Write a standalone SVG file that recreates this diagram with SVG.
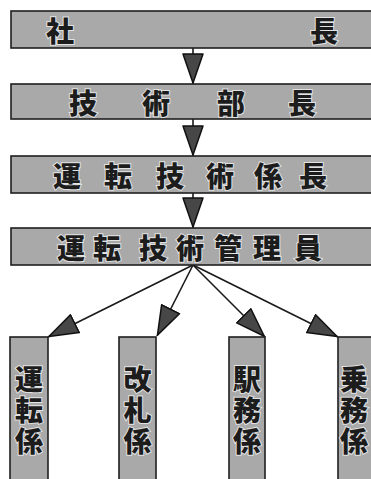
<svg xmlns="http://www.w3.org/2000/svg" width="371" height="479" viewBox="0 0 371 479">
<defs>
<style>
.box{fill:#a9a9a9;stroke:#1e1e1e;stroke-width:1.6}
.t{font-family:"Noto Sans CJK JP","Noto Sans CJK SC",sans-serif;font-weight:900;font-size:28px;fill:#1c1c1c;stroke:#e2e2e2;stroke-width:2;paint-order:stroke;text-anchor:middle;dominant-baseline:central}
.v{font-family:"Noto Sans CJK JP","Noto Sans CJK SC",sans-serif;font-weight:900;font-size:28px;fill:#1c1c1c;stroke:#e2e2e2;stroke-width:2;paint-order:stroke;writing-mode:vertical-rl;letter-spacing:3px}
.c{stroke:#1a1a1a;stroke-width:1.6;fill:none}
</style>
<marker id="ah" viewBox="0 0 31 22" refX="31" refY="11" markerWidth="31" markerHeight="22" markerUnits="userSpaceOnUse" orient="auto">
<path d="M1,1 L30,11 L1,21 Z" fill="#474747" stroke="#111" stroke-width="1.5" stroke-linejoin="round"/>
</marker>
</defs>
<rect width="371" height="479" fill="#ffffff"/>
<g id="connectors">
<line class="c" x1="193" y1="48" x2="193" y2="84" marker-end="url(#ah)"/>
<line class="c" x1="193" y1="119" x2="193" y2="156" marker-end="url(#ah)"/>
<line class="c" x1="193" y1="193" x2="193" y2="228" marker-end="url(#ah)"/>
<line class="c" x1="193" y1="265" x2="48" y2="337" marker-end="url(#ah)"/>
<line class="c" x1="193" y1="265" x2="157" y2="336" marker-end="url(#ah)"/>
<line class="c" x1="193" y1="265" x2="265" y2="337" marker-end="url(#ah)"/>
<line class="c" x1="193" y1="265" x2="338" y2="337" marker-end="url(#ah)"/>
</g>
<g id="n-shacho">
<rect class="box" x="11" y="11" width="375" height="37"/>
<text class="t" x="60" y="30">社</text>
<text class="t" x="324" y="30">長</text>
</g>
<g id="n-gijutsubucho">
<rect class="box" x="11" y="84" width="375" height="35"/>
<text class="t" x="83" y="102">技</text>
<text class="t" x="156" y="102">術</text>
<text class="t" x="231" y="102">部</text>
<text class="t" x="302" y="102">長</text>
</g>
<g id="n-untengijutsukakaricho">
<rect class="box" x="11" y="156" width="375" height="37"/>
<text class="t" x="67" y="175">運</text>
<text class="t" x="118" y="175">転</text>
<text class="t" x="170" y="175">技</text>
<text class="t" x="220" y="175">術</text>
<text class="t" x="268" y="175">係</text>
<text class="t" x="313" y="175">長</text>
</g>
<g id="n-untengijutsukanriin">
<rect class="box" x="11" y="228" width="375" height="37"/>
<text class="t" x="71" y="247">運</text>
<text class="t" x="107" y="247">転</text>
<text class="t" x="153" y="247">技</text>
<text class="t" x="190" y="247">術</text>
<text class="t" x="228" y="247">管</text>
<text class="t" x="267" y="247">理</text>
<text class="t" x="308" y="247">員</text>
</g>
<g id="n-untengakari">
<rect class="box" x="10" y="337" width="38" height="150"/>
<text class="v" x="29" y="365">運転係</text>
</g>
<g id="n-kaisatsugakari">
<rect class="box" x="119" y="337" width="37" height="150"/>
<text class="v" x="137.5" y="365">改札係</text>
</g>
<g id="n-ekimugakari">
<rect class="box" x="229" y="337" width="36" height="150"/>
<text class="v" x="247" y="365">駅務係</text>
</g>
<g id="n-jomugakari">
<rect class="box" x="338" y="337" width="45" height="150"/>
<text class="v" x="354" y="365">乗務係</text>
</g>
</svg>
